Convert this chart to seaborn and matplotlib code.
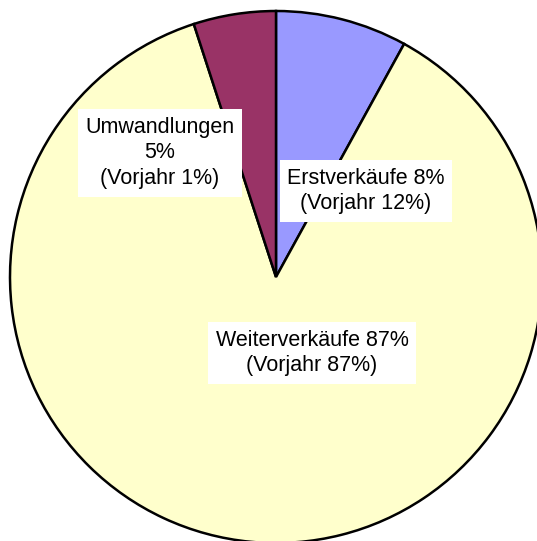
import matplotlib
matplotlib.use("Agg")
import matplotlib.pyplot as plt
import seaborn as sns

categories = ["Erstverkäufe", "Weiterverkäufe", "Umwandlungen"]
values = [8, 87, 5]
labels = ["Erstverkäufe 8%\n(Vorjahr 12%)",
          "Weiterverkäufe 87%\n(Vorjahr 87%)",
          "Umwandlungen\n5%\n(Vorjahr 1%)"]
colors = ["#9999FF", "#FFFFCC", "#993366"]

sns.set_theme(style="white")
plt.rcParams['font.family'] = ['Liberation Sans', 'DejaVu Sans']

fig = plt.figure(figsize=(5.37, 5.41), dpi=100)
ax = fig.add_axes([0, 0, 1, 1])
ax.pie(values, colors=colors, startangle=90, counterclock=False,
       radius=1.0, wedgeprops=dict(edgecolor="black", linewidth=1.8))

R = 266.0
cx, cy = 276.0, 277.0
ax.set_xlim((0 - cx) / R, (537 - cx) / R)
ax.set_ylim((cy - 541) / R, (cy - 0) / R)
ax.set_aspect("auto")
ax.axis("off")

label_px = [(366, 191), (312, 353), (160, 153)]
for lab, (px, py) in zip(labels, label_px):
    ax.text((px - cx) / R, (cy - py) / R, lab, ha="center", va="center",
            multialignment="center", fontsize=15.5, color="black",
            linespacing=1.3,
            bbox=dict(boxstyle="square,pad=0.35", facecolor="white", edgecolor="none"))

fig.savefig("out.png", dpi=100)
